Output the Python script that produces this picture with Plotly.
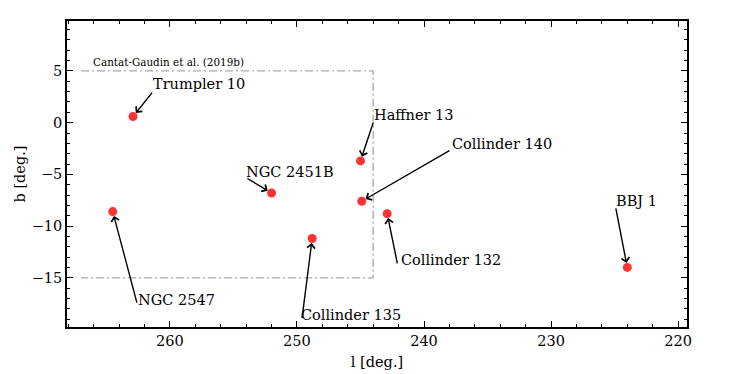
import plotly.graph_objects as go

# Cluster names and galactic coordinates (deg)
names = ['Trumpler 10', 'Haffner 13', 'Collinder 140', 'NGC 2451B',
         'Collinder 132', 'Collinder 135', 'NGC 2547', 'BBJ 1']
l_deg = [262.9, 245.0, 244.9, 252.0, 242.9, 248.8, 264.5, 224.0]
b_deg = [0.6, -3.7, -7.6, -6.8, -8.8, -11.2, -8.6, -14.0]

# Where each label's arrow starts, and where each label text sits (left edge, middle)
tail_l = [261.4, 244.0, 238.0, 253.9, 242.1, 249.6, 262.6, 224.9]
tail_b = [2.9, 0.0, -2.7, -5.4, -13.6, -18.9, -17.4, -8.3]
text_l = [261.3, 243.9, 237.8, 254.0, 241.8, 249.7, 262.5, 224.9]
text_b = [3.7, 0.7, -2.1, -4.8, -13.3, -18.6, -17.15, -7.55]

# Cantat-Gaudin et al. (2019b) coverage (open box)
box_l = [267, 244, 244, 267]
box_b = [5, 5, -15, -15]

font_family = 'DejaVu Serif'

fig = go.Figure()

# Coverage box, dash-dot grey
fig.add_trace(go.Scatter(x=box_l, y=box_b, mode='lines',
                         line=dict(color='#aaaaaa', width=1.3, dash='8px,3px,2px,3px'),
                         hoverinfo='skip', showlegend=False))

# Clusters
fig.add_trace(go.Scatter(x=l_deg, y=b_deg, mode='markers',
                         marker=dict(size=9, color='rgba(255,0,0,0.8)'),
                         showlegend=False))

# Arrows and labels
for i, name in enumerate(names):
    fig.add_annotation(x=l_deg[i], y=b_deg[i], ax=tail_l[i], ay=tail_b[i],
                       xref='x', yref='y', axref='x', ayref='y', text='',
                       showarrow=True, arrowhead=4, arrowsize=1.1, arrowwidth=1.4,
                       arrowcolor='black', standoff=4.5, borderpad=0, borderwidth=0)
    fig.add_annotation(x=text_l[i], y=text_b[i], xref='x', yref='y', text=name,
                       showarrow=False, xanchor='left', yanchor='middle',
                       borderpad=0, borderwidth=0,
                       font=dict(family=font_family, size=14.5, color='black'))

fig.add_annotation(x=260.15, y=5.88, xref='x', yref='y', text='Cantat-Gaudin et al. (2019b)',
                   showarrow=False, xanchor='center', yanchor='middle',
                   font=dict(family=font_family, size=10.4, color='black'))

axis_style = dict(showline=True, linecolor='black', linewidth=1.6, mirror='allticks',
                  ticks='inside', ticklen=6.5, tickwidth=1, tickcolor='black',
                  showgrid=False, zeroline=False,
                  tickfont=dict(family=font_family, size=14.5, color='black'))

fig.update_xaxes(range=[268.1, 219.3], dtick=10, tick0=220,
                 minor=dict(dtick=2, ticks='inside', ticklen=3.5, tickwidth=1, tickcolor='black'),
                 title=dict(text='l [deg.]', font=dict(family=font_family, size=14.5, color='black'),
                            standoff=9),
                 **axis_style)
fig.update_yaxes(range=[-19.76, 9.83], dtick=5, tick0=0,
                 minor=dict(dtick=1, ticks='inside', ticklen=3.5, tickwidth=1, tickcolor='black'),
                 title=dict(text='b [deg.]', font=dict(family=font_family, size=14.5, color='black'),
                            standoff=3),
                 **axis_style)

# The page body adds 8px on the left and top, so margins are shifted to match
fig.update_layout(width=747, height=374, plot_bgcolor='white', paper_bgcolor='white',
                  margin=dict(l=59, r=68, t=11, b=55),
                  font=dict(family=font_family, color='black'))

fig.write_html("out.html")
